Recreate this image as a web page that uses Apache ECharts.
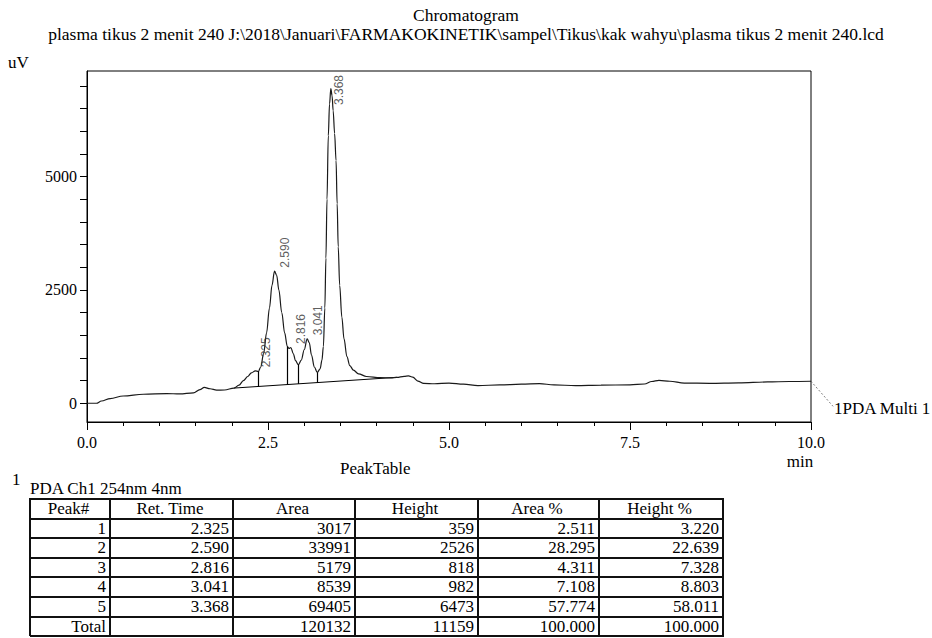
<!DOCTYPE html>
<html>
<head>
<meta charset="utf-8">
<script src="https://cdn.jsdelivr.net/npm/echarts@6/dist/echarts.min.js"></script>
<style>
html,body{margin:0;padding:0;background:#fff;}
#chart{position:absolute;left:0;top:0;width:932px;height:638px;}
#lower{position:absolute;left:0;top:0;width:932px;height:638px;font-family:'Liberation Serif','Times New Roman',serif;font-size:17px;color:#000;pointer-events:none;}
.t{position:absolute;white-space:nowrap;}
.ln{position:absolute;background:#111;}
</style>
</head>
<body>
<div id="chart"></div>
<div id="lower"></div>
<script>
// ---------- data ----------
const chartTitle = 'Chromatogram';
const sampleName = 'plasma tikus 2 menit 240 J:\\2018\\Januari\\FARMAKOKINETIK\\sampel\\Tikus\\kak wahyu\\plasma tikus 2 menit 240.lcd';
const yUnit = 'uV';
const xUnit = 'min';
const traceName = '1PDA Multi 1';

// chromatogram trace (min, uV)
const times  = [0.00,0.13,0.20,0.32,0.50,0.78,1.10,1.28,1.47,1.56,1.62,1.70,1.79,1.90,2.03,2.10,2.16,2.22,2.27,2.325,2.366,2.40,2.44,2.48,2.52,2.555,2.59,2.62,2.65,2.69,2.73,2.767,2.79,2.816,2.85,2.88,2.919,2.96,3.00,3.041,3.07,3.10,3.14,3.181,3.22,3.245,3.265,3.285,3.30,3.315,3.333,3.35,3.368,3.385,3.40,3.42,3.44,3.455,3.47,3.49,3.52,3.55,3.59,3.63,3.68,3.75,3.86,4.05,4.20,4.28,4.38,4.44,4.50,4.57,4.65,4.80,5.00,5.20,5.40,5.70,6.00,6.25,6.45,6.75,7.10,7.50,7.70,7.80,7.90,8.05,8.25,8.60,9.00,9.40,9.70,10.00];
const signal = [0,0,50,104,160,199,214,205,228,300,350,320,290,292,335,400,500,590,670,715,700,800,1100,1550,2100,2600,2912,2820,2500,2000,1550,1250,1210,1230,1090,940,850,950,1180,1420,1340,1070,800,680,760,950,1250,2100,3200,4500,5900,6600,6940,6780,6450,5950,5350,4400,3450,2600,1900,1420,1030,830,730,650,590,565,560,572,595,605,575,490,440,430,445,420,390,405,420,435,405,390,400,405,425,480,505,485,445,440,450,470,480,485];

// integration baseline (min, uV)
const baselineTimes  = [2.03, 4.28];
const baselineValues = [335, 572];

// drop lines between peaks (min, uV)
const dropTimes  = [2.366, 2.767, 2.919, 3.181];
const dropTop    = [700, 1250, 850, 680];
const dropBottom = [367, 410, 427, 455];

// peak apexes (min, uV)
const peakTimes = [2.325, 2.590, 2.816, 3.041, 3.368];
const peakApex  = [715, 2912, 1230, 1420, 6940];

// axes
const xMin = 0, xMax = 10, xMajor = 2.5;
const yMin = -413, yMax = 7326;
const yTickValues  = [0,500,1000,1500,2000,2500,3000,3500,4000,4500,5000,5500,6000,6500,7000];
const yLabelValues = [0,2500,5000];

// peak table
const tableTitle   = 'PeakTable';
const detectorNo   = '1';
const detectorName = 'PDA Ch1 254nm 4nm';
const tableHeaders = ['Peak#','Ret. Time','Area','Height','Area %','Height %'];
const peakNo    = ['1','2','3','4','5'];
const retTime   = ['2.325','2.590','2.816','3.041','3.368'];
const area      = ['3017','33991','5179','8539','69405'];
const height    = ['359','2526','818','982','6473'];
const areaPct   = ['2.511','28.295','4.311','7.108','57.774'];
const heightPct = ['3.220','22.639','7.328','8.803','58.011'];
const totalRow  = ['Total','','120132','11159','100.000','100.000'];

// ---------- chart ----------
const serifFont = '"Liberation Serif", "Times New Roman", serif';
const serif = "Liberation Serif";
const sans  = "Liberation Sans";
const chart = echarts.init(document.getElementById('chart'), null, {renderer:'svg'});

const gridBox = {left:87, right:121, top:71, bottom:216};

const peakPoints = peakTimes.map((t,i) => {
  // the tallest label would cross the frame: centre it beside the apex instead
  const tall = peakApex[i] > 6000;
  return {
    value:[t, peakApex[i]],
    label: tall
      ? {position:[9, 2], align:'center'}
      : {position:[11, -3], align:'left'}
  };
});

chart.setOption({
  animation:false,
  backgroundColor:'#fff',
  grid:Object.assign({show:true, borderColor:'#000', borderWidth:1, containLabel:false, outerBoundsMode:'none'}, gridBox),
  xAxis:{
    type:'value', min:xMin, max:xMax, interval:xMajor,
    axisLine:{show:true, onZero:false, lineStyle:{color:'#000', width:1}},
    axisTick:{show:true, length:8, lineStyle:{color:'#000', width:1}},
    minorTick:{show:true, splitNumber:5, length:4, lineStyle:{color:'#000', width:1}},
    splitLine:{show:false}, minorSplitLine:{show:false},
    axisLabel:{show:true, margin:12, color:'#000', fontFamily:serif, fontSize:16, formatter:v => v.toFixed(1), showMinLabel:true, showMaxLabel:true}
  },
  yAxis:{
    type:'value', min:yMin, max:yMax,
    axisLine:{show:true, onZero:false, lineStyle:{color:'#000', width:1}},
    axisTick:{show:true, length:7, customValues:yTickValues, lineStyle:{color:'#000', width:1}},
    axisLabel:{show:true, margin:10, customValues:yLabelValues, color:'#000', fontFamily:serif, fontSize:16, formatter:v => String(v)},
    splitLine:{show:false}
  },
  series:[
    {
      type:'line', name:traceName,
      data:times.map((t,i) => [t, signal[i]]),
      showSymbol:false, smooth:0.35, smoothMonotone:'x',
      lineStyle:{color:'#1a1a1a', width:1.2},
      z:3,
      markLine:{
        silent:true, symbol:'none', animation:false,
        label:{show:false},
        lineStyle:{color:'#000', width:1.2, type:'solid'},
        data:dropTimes.map((t,i) => [{coord:[t, dropBottom[i]]}, {coord:[t, dropTop[i]]}])
      }
    },
    {
      type:'line', name:'baseline',
      data:baselineTimes.map((t,i) => [t, baselineValues[i]]),
      showSymbol:false,
      lineStyle:{color:'#000', width:1}, z:2
    },
    {
      type:'scatter', name:'peaks',
      data:peakPoints,
      symbolSize:1, itemStyle:{color:'rgba(0,0,0,0)'},
      label:{show:true, rotate:90, verticalAlign:'middle', fontFamily:sans, fontSize:12, color:'#333',
             formatter:p => p.value[0].toFixed(3)},
      z:4
    }
  ]
});

// titles, axis unit texts and trace name with dotted leader
const endPx = chart.convertToPixel({gridIndex:0}, [times[times.length-1], signal[signal.length-1]]);
const xEndPx = chart.convertToPixel({gridIndex:0}, [xMax, 0]);
const gridBottomPx = 638 - gridBox.bottom;
chart.setOption({
  graphic:[
    {type:'text', x:466, y:15, style:{text:chartTitle, font:'17.5px ' + serifFont, fill:'#000', textAlign:'center', textVerticalAlign:'middle'}},
    {type:'text', x:466, y:34, style:{text:sampleName, font:'17.5px ' + serifFont, fill:'#000', textAlign:'center', textVerticalAlign:'middle'}},
    {type:'text', x:8, y:62, style:{text:yUnit, font:'17px ' + serifFont, fill:'#000', textVerticalAlign:'middle'}},
    {type:'text', x:xEndPx[0] - 11, y:gridBottomPx + 39, style:{text:xUnit, font:'17px ' + serifFont, fill:'#000', textAlign:'center', textVerticalAlign:'middle'}},
    {type:'line', shape:{x1:endPx[0], y1:endPx[1], x2:endPx[0] + 22, y2:endPx[1] + 25}, style:{stroke:'#555', lineWidth:1, lineDash:[1.5,2.5]}},
    {type:'text', x:endPx[0] + 23, y:endPx[1] + 27, style:{text:traceName, font:'17px ' + serifFont, fill:'#000', textVerticalAlign:'middle'}}
  ]
});

// ---------- peak table (HTML text) ----------
const lower = document.getElementById('lower');
function addText(txt, left, top, extra){
  const d = document.createElement('div');
  d.className = 't'; d.textContent = txt;
  d.style.left = left + 'px'; d.style.top = top + 'px';
  if (extra) Object.assign(d.style, extra);
  lower.appendChild(d); return d;
}
function addLine(l, t, w, h){
  const d = document.createElement('div');
  d.className = 'ln';
  Object.assign(d.style, {left:l+'px', top:t+'px', width:w+'px', height:h+'px'});
  lower.appendChild(d);
}
addText(tableTitle, 340, 459);
addText(detectorNo, 12, 470);
addText(detectorName, 30, 479);

const colX = [30,110,233,355,478,599,723];
const rowTop = 499, rowH = 19.6;
const rows = [tableHeaders].concat(peakNo.map((n,i) => [n, retTime[i], area[i], height[i], areaPct[i], heightPct[i]])).concat([totalRow]);
const lw = 2;
for (let r = 0; r <= rows.length; r++) addLine(colX[0], rowTop + r*rowH - 1, colX[colX.length-1] - colX[0] + 1, lw);
for (let c = 0; c < colX.length; c++) addLine(colX[c] - 1, rowTop - 1, lw, rows.length*rowH + 1);
rows.forEach((row, r) => {
  row.forEach((txt, c) => {
    if (!txt) return;
    const w = colX[c+1] - colX[c];
    const st = {width:(w - 5) + 'px', height:rowH + 'px', lineHeight:rowH + 'px', textAlign: r === 0 ? 'center' : 'right'};
    addText(txt, colX[c] + 1, rowTop + r*rowH, st);
  });
});
</script>
</body>
</html>
